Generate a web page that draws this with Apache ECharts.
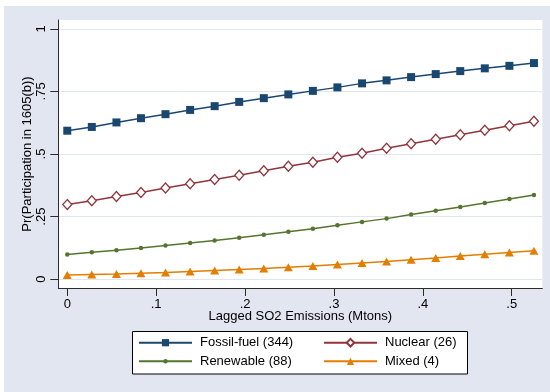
<!DOCTYPE html>
<html>
<head>
<meta charset="utf-8">
<script src="https://cdn.jsdelivr.net/npm/echarts@6/dist/echarts.min.js"></script>
<style>html,body{margin:0;padding:0;background:#fff}#c{width:550px;height:392px}</style>
</head>
<body>
<div id="c"></div>
<script>
// Lagged SO2 emissions (Mtons)
var xValues = [0.000,0.0276,0.0553,0.0829,0.1105,0.1382,0.1658,0.1934,0.2211,0.2487,0.2763,0.3039,0.3316,0.3592,0.3868,0.4145,0.4421,0.4697,0.4974,0.525];
var fossil    = [0.593,0.608,0.626,0.643,0.659,0.676,0.691,0.708,0.723,0.738,0.752,0.766,0.782,0.794,0.807,0.819,0.831,0.842,0.852,0.863];
var nuclear   = [0.298,0.313,0.330,0.346,0.364,0.381,0.398,0.415,0.433,0.451,0.467,0.487,0.503,0.523,0.541,0.559,0.577,0.595,0.613,0.631];
var renewable = [0.099,0.108,0.116,0.125,0.135,0.145,0.155,0.166,0.178,0.190,0.202,0.216,0.229,0.242,0.258,0.273,0.288,0.304,0.320,0.336];
var mixed     = [0.017,0.019,0.021,0.024,0.027,0.031,0.035,0.039,0.043,0.048,0.053,0.059,0.065,0.071,0.078,0.085,0.093,0.100,0.107,0.114];
var seriesNames = ['Fossil-fuel (344)','Nuclear (26)','Renewable (88)','Mixed (4)'];
var xTicks = [0,0.1,0.2,0.3,0.4,0.5];
var yTicks = [0,0.25,0.5,0.75,1];
var xTitle = 'Lagged SO2 Emissions (Mtons)';
var yTitle = 'Pr(Participation in 1605(b))';

function pairs(ys){ return ys.map(function(y,i){ return [xValues[i], y]; }); }
function fmt(v){
  var r = Math.round(v*100)/100;
  if (r === 0) return '0';
  if (r === 1) return '1';
  return String(r).replace(/^0/,'');
}
var FONT = 'Liberation Sans, Arial, sans-serif';
var axisColor = '#2b2b2b';
var gridColor = '#e1e6ee';
var colors = ['#1a476f','#90353b','#55752f','#e37e00'];

var chart = echarts.init(document.getElementById('c'), null, {renderer:'canvas'});

function legendAt(idx, left, centerY, h){
  return {
    show:true, data:[seriesNames[idx]], orient:'vertical',
    left:left, top:centerY - 7.5, padding:0,
    itemWidth:53, itemHeight:h,
    textStyle:{fontFamily:FONT, fontSize:13, color:'#000', padding:[0,0,0,3]},
    selectedMode:false
  };
}

var option = {
  animation:false,
  backgroundColor:'#ffffff',
  graphic:[
    {type:'rect', z:-10, silent:true, shape:{x:4,y:6,width:546,height:386}, style:{fill:'#e2e6f0'}},
    {type:'rect', z:-9, silent:true, shape:{x:58.3,y:20,width:484,height:268}, style:{fill:'#ffffff'}},
    {type:'rect', z:-1, silent:true, shape:{x:132.5,y:331.5,width:335,height:42.5}, style:{fill:'#ffffff', stroke:'#000', lineWidth:1}}
  ],
  grid:{left:58.3, right:7.7, top:20, bottom:104, containLabel:false},
  xAxis:{
    type:'value', min:-0.0101, max:0.5344,
    axisLine:{show:true, onZero:false, lineStyle:{color:axisColor, width:1}},
    axisTick:{show:true, length:8, customValues:xTicks, lineStyle:{color:axisColor}},
    axisLabel:{customValues:xTicks, formatter:fmt, margin:10, fontFamily:FONT, fontSize:13, color:'#000'},
    splitLine:{show:false},
    name:xTitle, nameLocation:'middle', nameGap:22, nameMoveOverlap:false,
    nameTextStyle:{fontFamily:FONT, fontSize:13, color:'#000'}
  },
  yAxis:{
    type:'value', min:-0.035, max:1.035,
    axisLine:{show:true, onZero:false, lineStyle:{color:axisColor, width:1}},
    axisTick:{show:true, length:8, customValues:yTicks, lineStyle:{color:axisColor}},
    axisLabel:{customValues:yTicks, formatter:fmt, rotate:90, margin:10, fontFamily:FONT, fontSize:13, color:'#000'},
    splitLine:{show:true, lineStyle:{color:gridColor, width:1.2}},
    name:yTitle, nameLocation:'middle', nameGap:24, nameMoveOverlap:false,
    nameTextStyle:{fontFamily:FONT, fontSize:13, color:'#000'}
  },
  legend:[
    legendAt(0, 138, 343.7, 9),
    legendAt(1, 323, 343.7, 9.5),
    legendAt(2, 138, 362.3, 5.5),
    legendAt(3, 323, 362.3, 9)
  ],
  series:[
    {name:seriesNames[0], type:'line', data:pairs(fossil), symbol:'rect', symbolSize:8, showAllSymbol:true,
     lineStyle:{color:colors[0], width:1.5}, itemStyle:{color:colors[0]}},
    {name:seriesNames[1], type:'line', data:pairs(nuclear), symbol:'diamond', symbolSize:[9,10], showAllSymbol:true,
     lineStyle:{color:colors[1], width:1.5}, itemStyle:{color:'#ffffff', borderColor:colors[1], borderWidth:1.3}},
    {name:seriesNames[2], type:'line', data:pairs(renewable), symbol:'circle', symbolSize:4.5, showAllSymbol:true,
     lineStyle:{color:colors[2], width:1.5}, itemStyle:{color:colors[2]}},
    {name:seriesNames[3], type:'line', data:pairs(mixed), symbol:'triangle', symbolSize:[9,8], showAllSymbol:true,
     lineStyle:{color:colors[3], width:1.5}, itemStyle:{color:colors[3]}}
  ]
};
chart.setOption(option);
</script>
</body>
</html>
